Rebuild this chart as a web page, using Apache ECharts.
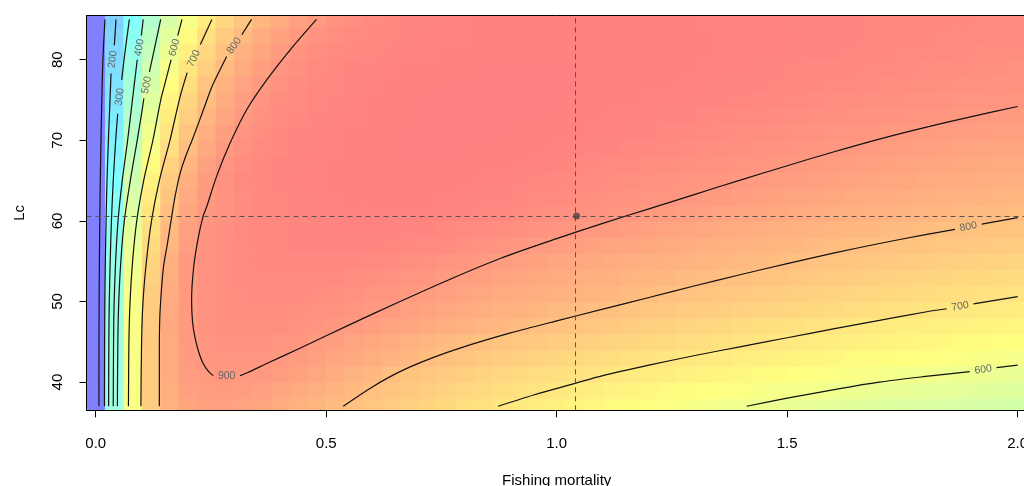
<!DOCTYPE html>
<html><head><meta charset="utf-8">
<script src="https://cdn.jsdelivr.net/npm/echarts@6/dist/echarts.min.js"></script>
<style>html,body{margin:0;padding:0;background:#fff}#main{width:1024px;height:486px}</style>
</head><body><div id="main"></div>
<script>
// ---------- grid axes ----------
const fValues = [0,0.04,0.08,0.12,0.16,0.20,0.24,0.28,0.32,0.36,0.40,0.44,0.48,0.52,0.56,0.60,0.64,0.68,0.72,0.76,0.80,0.84,0.88,0.92,0.96,1.00,1.04,1.08,1.12,1.16,1.20,1.24,1.28,1.32,1.36,1.40,1.44,1.48,1.52,1.56,1.60,1.64,1.68,1.72,1.76,1.80,1.84,1.88,1.92,1.96,2.00];
const lcValues = [37,39,41,43,45,47,49,51,53,55,57,59,61,63,65,67,69,71,73,75,77,79,81,83,85];
const xTicks = [0,0.5,1,1.5,2];
const yTicks = [40,50,60,70,80];
const refF = 1.043;
const refLc = 60.6;

// ---------- yield per row (Lc), one value per F ----------
const yield37 = [0,398,628,765,835,866,877,878,873,863,850,836,822,808,795,782,770,758,746,735,724,713,702,692,683,675,667,659,651,644,637,630,623,616,610,603,597,591,585,580,575,570,565,560,556,552,548,544,540,536,532];
const yield39 = [0,398,628,770,845,878,888,890,887,879,868,854,840,826,812,798,786,775,764,753,742,732,722,713,705,697,689,681,674,667,660,653,647,641,635,629,623,617,612,607,602,597,593,588,584,580,576,572,568,564,561];
const yield41 = [0,398,628,772,850,886,898,901,900,895,887,875,861,848,832,816,801,790,780,770,760,751,742,734,726,719,712,705,698,692,686,680,674,668,663,657,652,646,641,636,631,626,621,616,611,606,602,598,594,590,586];
const yield43 = [0,398,628,772,852,890,903,909,910,906,899,889,879,868,856,844,831,818,806,795,785,775,766,758,750,743,736,729,722,716,710,704,698,692,687,682,677,672,667,662,657,653,649,645,641,637,633,629,625,621,617];
const yield45 = [0,398,628,773,855,894,908,915,917,915,910,902,893,882,870,858,847,836,825,815,805,796,788,781,774,767,761,755,749,743,737,731,725,719,714,708,702,697,692,687,682,677,673,668,664,659,655,651,647,643,639];
const yield47 = [0,395,625,771,856,897,912,919,922,922,919,914,908,900,892,883,873,863,853,843,834,825,816,808,800,793,786,780,774,767,760,753,747,741,735,729,723,718,713,708,703,698,693,689,684,680,676,672,668,664,660];
const yield49 = [0,393,622,769,855,897,914,921,925,926,925,922,918,912,905,897,889,880,871,862,853,845,837,829,822,815,808,802,796,790,784,778,772,767,761,756,751,746,741,736,731,726,721,716,711,706,701,697,693,689,685];
const yield51 = [0,390,620,765,852,895,913,922,927,929,930,929,927,923,918,910,902,894,886,878,870,862,855,848,841,834,828,822,816,810,804,798,793,787,782,777,772,767,762,757,752,747,742,737,733,728,724,720,716,712,708];
const yield53 = [0,383,611,755,845,895,918,927,932,935,936,936,935,932,928,923,916,909,901,893,885,878,871,864,857,851,845,839,833,827,822,816,811,806,801,796,791,786,781,776,771,766,761,756,752,747,743,739,735,731,727];
const yield55 = [0,375,601,747,839,894,917,928,934,937,939,940,941,940,938,934,929,923,916,909,901,894,887,880,874,868,862,856,850,845,839,834,828,823,818,813,808,803,798,793,788,783,779,774,770,766,762,758,754,750,746];
const yield57 = [0,363,586,731,825,885,912,926,934,939,942,944,945,946,946,945,943,940,935,929,922,914,906,899,893,887,881,875,869,863,858,852,847,842,837,832,827,822,817,812,807,802,798,794,790,786,782,778,775,772,769];
const yield59 = [0,354,574,719,815,877,907,923,933,939,943,946,948,949,950,950,949,947,944,940,936,931,926,920,914,908,902,896,890,884,878,872,866,861,855,850,845,840,835,830,825,821,816,812,808,804,800,797,794,791,788];
const yield61 = [0,342,558,705,801,865,899,918,930,938,943,947,950,952,953,953,953,952,950,948,945,941,937,933,928,923,918,912,906,901,895,890,884,879,873,868,863,858,853,848,844,839,835,831,827,823,819,815,812,809,806];
const yield63 = [0,330,542,687,787,853,894,914,928,937,943,947,950,952,954,955,955,955,954,952,950,947,944,940,936,932,927,922,917,912,907,903,899,894,889,884,879,874,869,864,859,855,850,846,842,838,834,831,828,825,822];
const yield65 = [0,321,527,671,772,841,889,918,932,940,945,949,952,954,956,957,957,957,957,956,954,952,949,946,942,938,934,930,926,922,918,914,909,905,901,897,893,888,884,879,875,871,866,862,858,854,850,847,844,841,838];
const yield67 = [0,306,507,649,750,824,874,907,926,937,944,948,952,954,956,957,958,958,958,958,957,956,954,952,949,946,943,940,936,932,928,924,920,916,912,908,904,900,896,891,887,883,879,875,871,867,863,860,857,854,851];
const yield69 = [0,294,485,625,726,803,856,895,918,932,941,946,950,953,955,957,958,959,959,959,959,958,957,956,954,952,950,947,944,941,938,935,931,927,923,919,915,911,907,903,899,895,891,887,883,879,875,872,869,866,863];
const yield71 = [0,282,465,605,708,785,841,882,910,926,937,944,949,952,955,957,958,959,960,960,960,960,959,958,957,956,954,952,950,947,944,941,938,935,931,928,924,920,917,913,909,906,902,898,895,891,888,885,882,879,876];
const yield73 = [0,270,445,582,686,764,823,865,898,918,931,940,946,950,953,955,957,958,959,960,960,960,960,960,959,958,957,955,953,951,949,947,944,941,938,935,932,929,926,923,920,917,914,911,908,905,902,899,896,893,890];
const yield75 = [0,260,426,561,664,745,804,850,885,909,925,935,942,947,951,954,956,958,959,960,960,960,960,960,960,959,958,957,956,955,953,951,949,947,945,942,940,937,934,931,928,926,923,920,917,914,912,910,908,906,904];
const yield77 = [0,250,410,540,643,723,785,833,869,898,917,929,937,943,947,951,954,956,958,959,960,960,960,960,960,960,959,958,957,956,955,954,952,950,948,946,944,942,939,937,934,932,929,927,924,922,920,918,916,914,912];
const yield79 = [0,235,390,518,620,700,763,813,852,883,906,922,932,939,944,948,951,954,956,957,958,959,959,959,959,959,959,958,958,957,956,955,954,952,951,949,947,945,943,941,939,937,935,932,930,928,926,924,922,920,918];
const yield81 = [0,225,372,497,598,678,742,794,835,867,893,912,925,933,939,943,947,950,952,954,955,956,957,958,958,958,958,958,958,957,957,956,955,954,953,952,950,949,947,946,944,942,940,938,936,934,932,930,928,926,924];
const yield83 = [0,214,352,472,571,652,717,770,813,847,875,898,914,925,932,938,942,946,949,951,953,954,955,956,957,957,957,957,957,957,956,956,955,954,953,952,951,950,949,948,946,945,943,941,940,938,936,934,932,931,929];
const yield85 = [0,200,330,445,540,620,685,740,785,822,852,877,898,913,925,934,940,945,948,951,953,954,955,956,956,956,956,956,956,955,955,954,954,953,952,951,950,949,948,947,946,945,943,942,941,939,938,937,936,934,933];

// ---------- contour lines [F, Lc]; null = gap holding the label ----------
const contour100 = [[0.007,37],[0.0071,45],[0.0074,50],[0.008,55],[0.0088,60],[0.0099,65],[0.0114,70],[0.0132,75],[0.0156,80],[0.020,85]];
const contour200 = [[0.019,37],[0.0193,45],[0.0198,50],[0.0209,55],[0.0224,60],[0.0245,65],[0.0275,70],[0.031,75],[0.0332,78.3],null,[0.0404,81.8],[0.044,85]];
const contour300 = [[0.028,37],[0.0285,45],[0.0294,50],[0.0314,55],[0.0341,60],[0.038,65],[0.0433,70],[0.0477,73.3],null,[0.0564,77.5],[0.0625,80.5],[0.073,85]];
const contour400 = [[0.038,37],[0.0387,45],[0.040,50],[0.0432,55],[0.0484,60],[0.0575,65],[0.0692,70],[0.0796,75],[0.090,80],null,[0.099,83],[0.103,85]];
const contour500 = [[0.047,37],[0.048,45],[0.050,50],[0.0545,55],[0.062,60],[0.075,65],[0.090,70],[0.100,73.5],[0.1045,75.2],null,[0.1165,78.5],[0.126,81],[0.141,85]];
const contour600 = [[0.071,37],[0.072,45],[0.0745,50],[0.080,55],[0.089,60],[0.104,65],[0.124,70],[0.141,75],[0.150,77],[0.1635,80],null,[0.178,83],[0.187,85]];
const contour700 = [[0.098,37],[0.0995,45],[0.1026,50],[0.110,55],[0.121,60],[0.138,65],[0.161,70],[0.183,75.4],[0.1985,78.4],null,[0.227,81.9],[0.252,85]];
const contour800 = [[0.138,37],[0.138,44],[0.139,48],[0.142,51],[0.147,54.3],[0.155,57],[0.165,60.6],[0.172,63],[0.183,65.9],[0.195,68],[0.212,70.45],[0.235,74],[0.252,76.65],[0.270,78.8],[0.284,80.4],null,[0.317,83.1],[0.338,85]];
const contour900 = [[0.479,85],[0.4215,81.2],[0.371,77.5],[0.3275,73.8],[0.291,69.6],[0.262,65.5],[0.241,61.8],[0.233,60.6],[0.221,57.5],[0.212,54],[0.208,50.2],[0.210,47.5],[0.215,45.6],[0.223,43.8],[0.233,42.3],[0.245,41.3],[0.255,40.8],null,[0.313,40.8],[0.33,41.2],[0.371,42.3],[0.443,44.2],[0.55,47.1],[0.66,50.0],[0.77,52.8],[0.88,55.4],[1.0,57.8],[1.1,59.7],[1.2,61.5],[1.3,63.3],[1.4,65.1],[1.5,66.85],[1.6,68.55],[1.7,70.15],[1.8,71.6],[1.9,72.95],[2.0,74.2]];
const contour800r = [[0.537,37],[0.60,39.4],[0.66,41.3],[0.73,43.0],[0.80,44.4],[0.90,46.1],[1.0,47.6],[1.1,49.05],[1.2,50.5],[1.3,51.95],[1.4,53.35],[1.5,54.7],[1.6,56.0],[1.7,57.2],[1.8,58.3],[1.864,58.95],null,[1.922,59.6],[2.0,60.4]];
const contour700r = [[0.873,37],[0.95,38.4],[1.04,39.85],[1.1,40.8],[1.2,42.1],[1.3,43.3],[1.4,44.4],[1.5,45.5],[1.6,46.6],[1.7,47.65],[1.8,48.7],[1.846,49.1],null,[1.904,49.7],[2.0,50.6]];
const contour600r = [[1.412,37],[1.5,38.0],[1.614,39.2],[1.7,40.0],[1.8,40.7],[1.896,41.3],null,[1.954,41.8],[2.0,42.1]];

const contourSets = [
  [100, contour100],[200, contour200],[300, contour300],[400, contour400],[500, contour500],
  [600, contour600],[700, contour700],[800, contour800],[900, contour900],
  [800, contour800r],[700, contour700r],[600, contour600r]
];

// ---------- build ----------
const yieldRows = [yield37,yield39,yield41,yield43,yield45,yield47,yield49,yield51,yield53,yield55,yield57,yield59,yield61,yield63,yield65,yield67,yield69,yield71,yield73,yield75,yield77,yield79,yield81,yield83,yield85];
const cells = [];
lcValues.forEach((lc, i) => fValues.forEach((f, j) => cells.push([f, lc, yieldRows[i][j]])));
const maxYield = Math.max(...cells.map(c => c[2]));
const dF = fValues[1] - fValues[0];
const dLc = lcValues[1] - lcValues[0];

const FONT = '"Liberation Sans", Arial, Helvetica, sans-serif';

const lineSeries = [];
const labelItems = [];
function makeLine(piece) {
  return {type:'line', data: piece, symbol:'none', smooth:0.3, silent:true, clip:true,
          lineStyle:{color:'#111', width:1.2}, z:3, animation:false};
}
contourSets.forEach(([level, path]) => {
  let piece = [];
  path.forEach((pt, k) => {
    if (pt === null) {
      lineSeries.push(makeLine(piece)); piece = [];
      const a = path[k-1], b = path[k+1];
      labelItems.push([(a[0]+b[0])/2, (a[1]+b[1])/2, level, a[0], a[1], b[0], b[1]]);
    } else piece.push(pt);
  });
  if (piece.length) lineSeries.push(makeLine(piece));
});

const chart = echarts.init(document.getElementById('main'), null, {renderer:'canvas'});
chart.setOption({
  animation:false,
  textStyle:{fontFamily:FONT},
  grid:{left:86.5, top:15.4, width:940.4, height:394.9, show:false, outerBoundsMode:'none', containLabel:false},
  visualMap:{type:'continuous', show:false, seriesIndex:0, dimension:2, min:0, max:maxYield,
             inRange:{color:['#8080FF','#80FFFF','#FFFF80','#FF8080']}},
  xAxis:[{
    type:'value', min:-0.02, max:2.02, position:'bottom', z:10,
    axisLine:{show:true, onZero:false, lineStyle:{color:'#000', width:1}},
    axisTick:{show:true, customValues:xTicks, length:7, lineStyle:{color:'#000'}},
    axisLabel:{customValues:xTicks, formatter:v => v.toFixed(1), margin:26, fontSize:15, color:'#000', fontFamily:FONT},
    splitLine:{show:false},
    name:'Fishing mortality', nameLocation:'middle', nameGap:63,
    nameTextStyle:{fontSize:15, color:'#000', fontFamily:FONT}
  },{
    type:'value', min:-0.02, max:2.02, position:'top', z:10,
    axisLine:{show:true, onZero:false, lineStyle:{color:'#000', width:1}},
    axisTick:{show:false}, axisLabel:{show:false}, splitLine:{show:false}
  }],
  yAxis:[{
    type:'value', min:36.5, max:85.5, position:'left', z:10,
    axisLine:{show:true, onZero:false, lineStyle:{color:'#000', width:1}},
    axisTick:{show:true, customValues:yTicks, length:7, lineStyle:{color:'#000'}},
    axisLabel:{customValues:yTicks, rotate:90, margin:21, fontSize:15, color:'#000', fontFamily:FONT},
    splitLine:{show:false},
    name:'Lc', nameLocation:'middle', nameGap:59, nameRotate:90,
    nameTextStyle:{fontSize:15, color:'#000', fontFamily:FONT}
  }],
  series:[
    {
      type:'custom', data:cells, encode:{x:0, y:1}, silent:true, z:1,
      renderItem:(params, api) => {
        const f = api.value(0), lc = api.value(1);
        const a = api.coord([f - dF/2, lc + dLc/2]);
        const b = api.coord([f + dF/2, lc - dLc/2]);
        const cs = params.coordSys;
        const shape = echarts.graphic.clipRectByRect(
          {x:a[0], y:a[1], width:b[0]-a[0]+0.7, height:b[1]-a[1]+0.7},
          {x:cs.x, y:cs.y, width:cs.width, height:cs.height});
        if (!shape) return;
        return {type:'rect', shape, style:{fill:api.visual('color')}};
      }
    },
    ...lineSeries,
    {
      type:'custom', data:labelItems, encode:{x:0, y:1}, silent:true, z:4,
      renderItem:(params, api) => {
        const p = api.coord([api.value(0), api.value(1)]);
        const p1 = api.coord([api.value(3), api.value(4)]);
        const p2 = api.coord([api.value(5), api.value(6)]);
        let ang = Math.atan2(-(p2[1]-p1[1]), p2[0]-p1[0]);
        if (ang > Math.PI/2) ang -= Math.PI;
        if (ang < -Math.PI/2) ang += Math.PI;
        return {type:'text', x:p[0], y:p[1], rotation:ang,
                style:{text:String(api.value(2)), fill:'#666', font:'10.5px ' + FONT, align:'center', verticalAlign:'middle'}};
      }
    },
    {
      type:'scatter', data:[[refF, refLc]], symbolSize:7, z:6, silent:true,
      itemStyle:{color:'#444'},
      markLine:{silent:true, symbol:['none','none'], label:{show:false}, animation:false,
                lineStyle:{type:[5,4], color:'#555', width:1},
                data:[{xAxis:refF},{yAxis:refLc}]}
    }
  ]
});
</script></body></html>
